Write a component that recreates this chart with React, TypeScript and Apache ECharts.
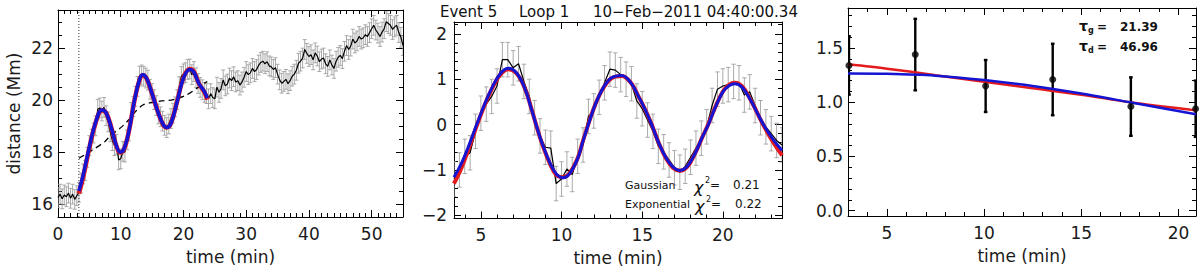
import React, { useEffect, useRef } from "react";
import * as echarts from "echarts";

const FONT = "DejaVu Sans";

// ---------- data ----------
const DT = 1 / 3; // cadence, minutes
const RAW_START = 0;
const RAW_DISTANCE = [
  16.25, 16.38, 16.2, 16.35, 16.28, 16.42, 16.22, 16.38, 16.18, 16.32,
  16.45, 16.81, 17.16, 17.29, 17.8, 18.25, 18.5, 18.73, 19.01, 19.65,
  19.7, 19.58, 19.72, 19.4, 19.16, 18.78, 18.44, 18.25, 18.3, 17.7,
  17.74, 18.03, 18.0, 18.47, 18.81, 19.53, 19.75, 20.15, 20.53, 20.92,
  20.97, 20.92, 20.85, 20.77, 20.42, 20.26, 20.02, 19.79, 19.47, 19.36,
  19.19, 19.03, 18.94, 19.08, 19.29, 19.5, 19.74, 20.02, 20.52, 20.91,
  21.01, 21.06, 21.18, 21.2, 20.98, 21.1, 20.86, 20.64, 20.49, 20.4,
  20.3, 20.25,
  20.05, 20.25, 20.1, 20.05, 20.5, 20.3, 20.45, 20.78, 20.55, 20.62,
  20.85, 20.75, 20.9, 20.7, 20.75, 20.58, 20.7, 20.88, 21.1, 20.98,
  21.05, 21.22, 21.1, 21.18, 21.35, 21.45, 21.5, 21.4, 21.48, 21.32,
  21.28, 21.18, 21.25, 21.0, 20.78, 20.65, 20.72, 20.8, 20.63, 20.75,
  20.92, 21.0, 21.15, 21.42, 21.5, 21.62, 21.95, 21.8, 21.68, 21.75,
  21.55, 21.82, 21.7, 21.48, 21.58, 21.62, 21.4, 21.3, 21.55, 21.35,
  21.22, 21.5, 21.65, 21.72, 21.6, 21.88, 22.1, 21.95, 22.08, 22.35,
  22.2, 22.28, 22.45, 22.35, 22.4, 22.52, 22.45, 22.6, 22.75, 22.88,
  22.7, 22.58, 22.45, 22.62, 22.75, 23.02, 22.95, 22.88, 22.72, 22.82,
  22.88, 22.6, 22.42, 22.1,
];
const RAW_ERR = 0.38;

const DOTTED_T = 3.33;

const TREND_T = [3.33, 5, 7.5, 8.3, 10.2, 11.5, 12.5, 13.6, 14.7, 16.5, 18.4, 20.5, 22.4, 23.8];
const TREND_Y = [17.76, 18.0, 18.41, 18.62, 18.98, 19.3, 19.6, 19.82, 19.9, 19.97, 20.02, 20.2, 20.5, 20.72];

const LFIT_G_T = [3.33, 4, 5, 6, 7, 7.7, 8.6, 9.3, 9.9, 10.5, 11.3, 12.2, 13, 13.5, 14.1, 15, 16, 16.8, 17.3, 18, 19, 20, 21, 21.6, 22.5, 23.3, 23.8];
const LFIT_G_Y = [16.5, 17.1, 18.2, 19.15, 19.62, 19.5, 18.85, 18.25, 18.0, 18.12, 18.8, 20.0, 20.8, 20.98, 20.85, 20.25, 19.5, 19.05, 18.95, 19.1, 19.95, 20.85, 21.18, 21.1, 20.62, 20.35, 20.08];
const LFIT_E_T = [3.33, 4, 5, 6, 7, 7.7, 8.6, 9.3, 9.9, 10.5, 11.3, 12.2, 13, 13.5, 14.1, 15, 16, 16.8, 17.3, 18, 19, 20, 21, 21.6, 22.5, 23.3, 23.8];
const LFIT_E_Y = [16.4, 17.02, 18.16, 19.13, 19.6, 19.5, 18.86, 18.24, 17.98, 18.1, 18.8, 20.0, 20.78, 20.96, 20.84, 20.24, 19.5, 19.04, 18.95, 19.1, 19.96, 20.87, 21.2, 21.12, 20.62, 20.32, 20.02];

const DETR_START = 10 / 3;
const DETR_VALUES = [
  -1.2, -1.0, -0.7, -0.62, -0.15, 0.25, 0.45, 0.62, 0.85, 1.43,
  1.43, 1.25, 1.34, 0.95, 0.62, 0.15, -0.25, -0.5, -0.52, -1.3,
  -1.2, -0.98, -1.1, -0.7, -0.45, 0.18, 0.3, 0.6, 0.92, 1.22,
  1.2, 1.1, 1.0, 0.9, 0.52, 0.35, 0.1, -0.15, -0.48, -0.6,
  -0.78, -0.95, -1.05, -0.92, -0.72, -0.52, -0.3, -0.05, 0.42, 0.78,
  0.85, 0.88, 0.95, 0.92, 0.65, 0.72, 0.42, 0.15, -0.05, -0.2,
  -0.35, -0.45,
];
const DETR_ERR = 0.38;

const MFIT_G_T = [3.33, 3.8, 4.3, 4.74, 5.2, 5.7, 6.2, 6.7, 7.2, 7.7, 8.1, 8.42, 8.8, 9.3, 9.7, 10.11, 10.5, 11.0, 11.3, 11.66, 12.1, 12.6, 13.1, 13.73, 14.3, 14.8, 15.2, 15.59, 16.0, 16.5, 16.9, 17.34, 17.8, 18.3, 18.7, 19.1, 19.5, 20.0, 20.4, 20.75, 21.2, 21.7, 22.1, 22.55, 23.1, 23.67];
const MFIT_G_Y = [-1.16, -0.85, -0.42, 0.0, 0.42, 0.82, 1.12, 1.24, 1.14, 0.82, 0.38, 0.0, -0.42, -0.86, -1.1, -1.17, -1.08, -0.75, -0.4, 0.0, 0.45, 0.82, 1.03, 1.08, 0.92, 0.6, 0.32, 0.0, -0.38, -0.75, -0.93, -1.01, -0.92, -0.62, -0.3, 0.0, 0.35, 0.72, 0.86, 0.9, 0.82, 0.55, 0.28, -0.02, -0.32, -0.57];
const MFIT_E_T = [3.33, 3.8, 4.3, 4.74, 5.2, 5.7, 6.2, 6.7, 7.2, 7.7, 8.1, 8.42, 8.8, 9.3, 9.7, 10.11, 10.5, 11.0, 11.3, 11.66, 12.1, 12.6, 13.1, 13.73, 14.3, 14.8, 15.2, 15.59, 16.0, 16.5, 16.9, 17.34, 17.8, 18.3, 18.7, 19.1, 19.5, 20.0, 20.4, 20.75, 21.2, 21.7, 22.1, 22.55, 23.1, 23.67];
const MFIT_E_Y = [-1.3, -0.95, -0.48, -0.03, 0.4, 0.8, 1.1, 1.22, 1.13, 0.82, 0.39, 0.0, -0.43, -0.88, -1.12, -1.16, -1.07, -0.74, -0.39, 0.01, 0.45, 0.81, 1.02, 1.07, 0.92, 0.6, 0.32, 0.0, -0.38, -0.76, -0.95, -1.02, -0.93, -0.62, -0.3, 0.01, 0.36, 0.73, 0.88, 0.92, 0.84, 0.56, 0.28, -0.04, -0.38, -0.68];

const AMP_T = [3.05, 6.46, 10.08, 13.53, 17.55, 20.88];
const AMP_Y = [1.34, 1.44, 1.15, 1.21, 0.96, 0.94];
const AMP_ERR = [0.27, 0.33, 0.24, 0.33, 0.27, 0.26];

const AFIT_E_T = [3.0, 5, 7.5, 10, 12.5, 15, 17.5, 20.9];
const AFIT_E_Y = [1.35, 1.31, 1.25, 1.19, 1.13, 1.07, 1.0, 0.925];
const AFIT_G_T = [3.0, 5, 7.5, 10, 12.5, 15, 17.5, 20.9];
const AFIT_G_Y = [1.265, 1.262, 1.245, 1.205, 1.15, 1.08, 1.0, 0.89];

// ticks
const range = (a: number, b: number, s: number) => {
  const out: number[] = [];
  for (let k = 0; a + k * s <= b + 1e-9; k++) out.push(Math.round((a + k * s) * 1000) / 1000);
  return out;
};
const L_X_MAJOR = [0, 10, 20, 30, 40, 50];
const L_Y_MAJOR = [16, 18, 20, 22];
const M_X_MAJOR = [5, 10, 15, 20];
const M_Y_MAJOR = [-2, -1, 0, 1, 2];
const R_X_MAJOR = [5, 10, 15, 20];
const R_Y_MAJOR = [0, 0.5, 1.0, 1.5];

const pairs = (t: number[], y: number[]) => t.map((v, i) => [v, y[i]]);

function errRender(color: string, width: number, cap: number) {
  return (params: any, api: any) => {
    const x = api.value(0);
    const y = api.value(1);
    const e = api.value(2);
    const a = api.coord([x, y + e]);
    const b = api.coord([x, y - e]);
    const st = { stroke: color, lineWidth: width };
    return {
      type: "group",
      children: [
        { type: "line", shape: { x1: a[0], y1: a[1], x2: b[0], y2: b[1] }, style: st },
        { type: "line", shape: { x1: a[0] - cap, y1: a[1], x2: a[0] + cap, y2: a[1] }, style: st },
        { type: "line", shape: { x1: b[0] - cap, y1: b[1], x2: b[0] + cap, y2: b[1] }, style: st },
      ],
    };
  };
}

function axisSet(gi: number, dim: "x" | "y", c: any) {
  const posA = dim === "x" ? "bottom" : "left";
  const posB = dim === "x" ? "top" : "right";
  const tickStyle = { color: "#000", width: 1 };
  const line = { show: true, onZero: false, lineStyle: { color: "#000", width: 1 } };
  const base = { gridIndex: gi, type: "value", min: c.min, max: c.max, splitLine: { show: false } };
  return [
    {
      ...base,
      position: posA,
      axisLine: line,
      axisTick: { show: true, inside: true, length: 7, customValues: c.major, lineStyle: tickStyle },
      axisLabel: {
        show: true,
        customValues: c.major,
        formatter: c.fmt,
        margin: c.margin,
        fontSize: 17,
        fontFamily: FONT,
        color: "#1a1a1a",
      },
      name: c.name,
      nameLocation: "middle",
      nameGap: c.nameGap,
      nameTextStyle: { fontSize: 17, fontFamily: FONT, color: "#1a1a1a" },
    },
    {
      ...base,
      position: posA,
      axisLine: { show: false, onZero: false },
      axisTick: { show: true, inside: true, length: 4, customValues: c.minor, lineStyle: tickStyle },
      axisLabel: { show: false },
    },
    {
      ...base,
      position: posB,
      axisLine: line,
      axisTick: { show: true, inside: true, length: 7, customValues: c.major, lineStyle: tickStyle },
      axisLabel: { show: false },
    },
    {
      ...base,
      position: posB,
      axisLine: { show: false, onZero: false },
      axisTick: { show: true, inside: true, length: 4, customValues: c.minor, lineStyle: tickStyle },
      axisLabel: { show: false },
    },
  ];
}

const minusFmt = (v: number) => (v < 0 ? "\u2212" + Math.abs(v) : String(v));

export default function App() {
  const ref = useRef<HTMLDivElement>(null);
  useEffect(() => {
    if (!ref.current) return;
    const chart = echarts.init(ref.current, undefined, { renderer: "svg" });

    const LX = { min: 0, max: 55 };
    const LY = { min: 15.5, max: 23.47 };
    const MX = { min: 10 / 3, max: 23.667 };
    const MY = { min: -2.07, max: 2.26 };
    const RX = { min: 3.0, max: 20.9 };
    const RY = { min: -0.05, max: 1.87 };

    const xAxis = [
      ...axisSet(0, "x", { ...LX, major: L_X_MAJOR, minor: range(1, 55, 1), margin: 8, name: "time (min)", nameGap: 31 }),
      ...axisSet(1, "x", { ...MX, major: M_X_MAJOR, minor: range(4, 23, 1), margin: 8, name: "time (min)", nameGap: 31 }),
      ...axisSet(2, "x", { ...RX, major: R_X_MAJOR, minor: range(4, 20, 1), margin: 8, name: "time (min)", nameGap: 31 }),
    ];
    const yAxis = [
      ...axisSet(0, "y", { ...LY, major: L_Y_MAJOR, minor: range(15.5, 23, 0.5), margin: 5, name: "distance (Mm)", nameGap: 36 }),
      ...axisSet(1, "y", { ...MY, major: M_Y_MAJOR, minor: range(-2, 2.2, 0.2), margin: 7, fmt: minusFmt }),
      ...axisSet(2, "y", { ...RY, major: R_Y_MAJOR, minor: range(0, 1.8, 0.1), margin: 5, fmt: (v: number) => v.toFixed(1) }),
    ];

    const rawData = RAW_DISTANCE.map((v, i) => [RAW_START + i * DT, v]);
    const rawErr = RAW_DISTANCE.map((v, i) => [RAW_START + i * DT, v, RAW_ERR]);
    const detData = DETR_VALUES.map((v, i) => [DETR_START + i * DT, v]);
    const detErr = DETR_VALUES.map((v, i) => [DETR_START + i * DT, v, DETR_ERR]);
    const ampErr = AMP_T.map((t, i) => [t, AMP_Y[i], AMP_ERR[i]]);

    const BLUE = "#1414d2";
    const RED = "#e41a1c";
    const GREY = "#a0a0a0";

    const series: any[] = [
      // left panel
      { type: "custom", xAxisIndex: 0, yAxisIndex: 0, renderItem: errRender(GREY, 0.9, 2), data: rawErr, encode: { x: 0, y: 1 }, clip: true, z: 1, silent: true },
      { type: "line", xAxisIndex: 0, yAxisIndex: 0, data: rawData, symbol: "none", lineStyle: { color: "#000", width: 1.2 }, z: 2 },
      { type: "line", xAxisIndex: 0, yAxisIndex: 0, data: [[DOTTED_T, LY.min], [DOTTED_T, LY.max]], symbol: "none", lineStyle: { color: "#333", width: 1, type: [1, 2] }, z: 2 },
      { type: "line", xAxisIndex: 0, yAxisIndex: 0, data: pairs(TREND_T, TREND_Y), symbol: "none", smooth: 0.3, lineStyle: { color: "#000", width: 1.3, type: [6, 4] }, z: 3 },
      { type: "line", xAxisIndex: 0, yAxisIndex: 0, data: pairs(LFIT_E_T, LFIT_E_Y), symbol: "none", smooth: 0.4, lineStyle: { color: RED, width: 4.5 }, z: 4 },
      { type: "line", xAxisIndex: 0, yAxisIndex: 0, data: pairs(LFIT_G_T, LFIT_G_Y), symbol: "none", smooth: 0.4, lineStyle: { color: BLUE, width: 3.5 }, z: 5 },
      // middle panel
      { type: "custom", xAxisIndex: 4, yAxisIndex: 4, renderItem: errRender(GREY, 0.9, 2.2), data: detErr, encode: { x: 0, y: 1 }, clip: true, z: 1, silent: true },
      { type: "line", xAxisIndex: 4, yAxisIndex: 4, data: detData, symbol: "none", lineStyle: { color: "#000", width: 1.2 }, z: 2 },
      { type: "line", xAxisIndex: 4, yAxisIndex: 4, data: pairs(MFIT_E_T, MFIT_E_Y), symbol: "none", smooth: 0.4, lineStyle: { color: RED, width: 4 }, z: 4 },
      { type: "line", xAxisIndex: 4, yAxisIndex: 4, data: pairs(MFIT_G_T, MFIT_G_Y), symbol: "none", smooth: 0.4, lineStyle: { color: BLUE, width: 3 }, z: 5 },
      // right panel
      { type: "custom", xAxisIndex: 8, yAxisIndex: 8, renderItem: errRender("#000", 2.4, 1.8), data: ampErr, encode: { x: 0, y: 1 }, clip: true, z: 3, silent: true },
      { type: "scatter", xAxisIndex: 8, yAxisIndex: 8, data: pairs(AMP_T, AMP_Y), symbol: "circle", symbolSize: 7, itemStyle: { color: "#000" }, z: 6 },
      { type: "line", xAxisIndex: 8, yAxisIndex: 8, data: pairs(AFIT_E_T, AFIT_E_Y), symbol: "none", smooth: 0.3, lineStyle: { color: RED, width: 2.5 }, z: 4 },
      { type: "line", xAxisIndex: 8, yAxisIndex: 8, data: pairs(AFIT_G_T, AFIT_G_Y), symbol: "none", smooth: 0.3, lineStyle: { color: BLUE, width: 2.5 }, z: 5 },
    ];

    const txt = (text: string, x: number, y: number, size: number, extra: any = {}) => ({
      type: "text",
      x,
      y,
      z: 100,
      style: { text, fill: "#111", fontSize: size, fontFamily: FONT, align: "left", verticalAlign: "middle", ...extra },
    });

    const graphic = [
      txt("Event 5", 440, 12, 15),
      txt("Loop 1", 519, 12, 15),
      txt("10\u2212Feb\u22122011 04:40:00.34", 593, 12, 15),
      txt("Gaussian", 625, 185, 11),
      txt("\u03c7", 694, 187, 16, { fontStyle: "italic" }),
      txt("2", 705, 180, 8),
      txt("=", 710, 185, 12),
      txt("0.21", 733, 185, 12),
      txt("Exponential", 625, 204, 11),
      txt("\u03c7", 695, 206, 16, { fontStyle: "italic" }),
      txt("2", 706, 199, 8),
      txt("=", 711, 204, 12),
      txt("0.22", 735, 204, 12),
      txt("\u03c4", 1079, 26, 14, { fontWeight: "bold" }),
      txt("g", 1088, 30, 8, { fontWeight: "bold" }),
      txt("=", 1097, 26.5, 12, { fontWeight: "bold" }),
      txt("21.39", 1120, 26.5, 12, { fontWeight: "bold" }),
      txt("\u03c4", 1079, 46, 14, { fontWeight: "bold" }),
      txt("d", 1088, 50, 8, { fontWeight: "bold" }),
      txt("=", 1097, 46.5, 12, { fontWeight: "bold" }),
      txt("46.96", 1120, 46.5, 12, { fontWeight: "bold" }),
    ];

    chart.setOption({
      animation: false,
      backgroundColor: "#fff",
      grid: [
        { left: 58, top: 10, width: 345, height: 207, containLabel: false, outerBoundsMode: "none" },
        { left: 454, top: 22, width: 328, height: 196.5, containLabel: false, outerBoundsMode: "none" },
        { left: 848, top: 8, width: 348, height: 208, containLabel: false, outerBoundsMode: "none" },
      ],
      xAxis,
      yAxis,
      series,
      graphic,
    } as any);

    return () => chart.dispose();
  }, []);

  return (
    <div
      ref={ref}
      style={{ position: "absolute", left: 0, top: 0, width: 1200, height: 269, background: "#fff" }}
    />
  );
}
